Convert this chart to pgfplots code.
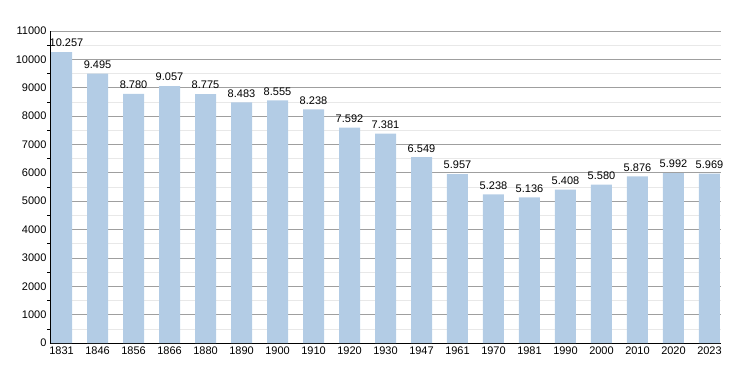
\documentclass[border=0pt]{standalone}
\usepackage{pgfplots}
\pgfplotsset{compat=1.18}
\usepackage{fontspec}
\setmainfont{Liberation Sans}
\definecolor{barblue}{RGB}{179,204,229}
\begin{document}
\begin{tikzpicture}
\path (0pt,0pt) rectangle (750pt,373pt);
\begin{axis}[
  at={(50pt,30pt)}, anchor=south west,
  scale only axis, width=671pt, height=312pt,
  xmin=-0.32, xmax=18.32, ymin=0, ymax=11000,
  scaled ticks=false,
  xtick=data,
  xticklabels={1831,1846,1856,1866,1880,1890,1900,1910,1920,1930,1947,1961,1970,1981,1990,2000,2010,2020,2023},
  ytick={0,1000,...,11000},
  minor ytick={500,1500,...,10500},
  yticklabel style={/pgf/number format/1000 sep={}, /pgf/number format/fixed},
  /pgf/number format/assume math mode=true,
  font=\fontsize{11}{13}\selectfont,
  axis x line*=bottom, axis y line*=left,
  axis line style={black, line width=0.9pt, -},
  tick align=outside,
  major tick length=0pt,
  minor tick length=3pt,
  minor tick style={black, line width=0.6pt},
  ymajorgrids, yminorgrids,
  major grid style={gray!75, line width=0.7pt},
  minor grid style={gray!18, line width=0.6pt},
  xtick style={draw=none},
  ybar, bar width=21pt,
  nodes near coords,
  visualization depends on={value \thisrow{dx} \as \dx},
  nodes near coords style={font=\fontsize{11}{13}\selectfont, yshift=1.5pt, xshift=\dx pt, /pgf/number format/1000 sep={.}, /pgf/number format/fixed, /pgf/number format/assume math mode=true},
  clip=false,
]
\addplot[fill=barblue, draw=none] table[x=x, y=y] {
x y dx
0 10257 5
1 9495 0
2 8780 0
3 9057 0
4 8775 0
5 8483 0
6 8555 0
7 8238 0
8 7592 0
9 7381 0
10 6549 0
11 5957 0
12 5238 0
13 5136 0
14 5408 0
15 5580 0
16 5876 0
17 5992 0
18 5969 0
};
\end{axis}
\end{tikzpicture}
\end{document}
